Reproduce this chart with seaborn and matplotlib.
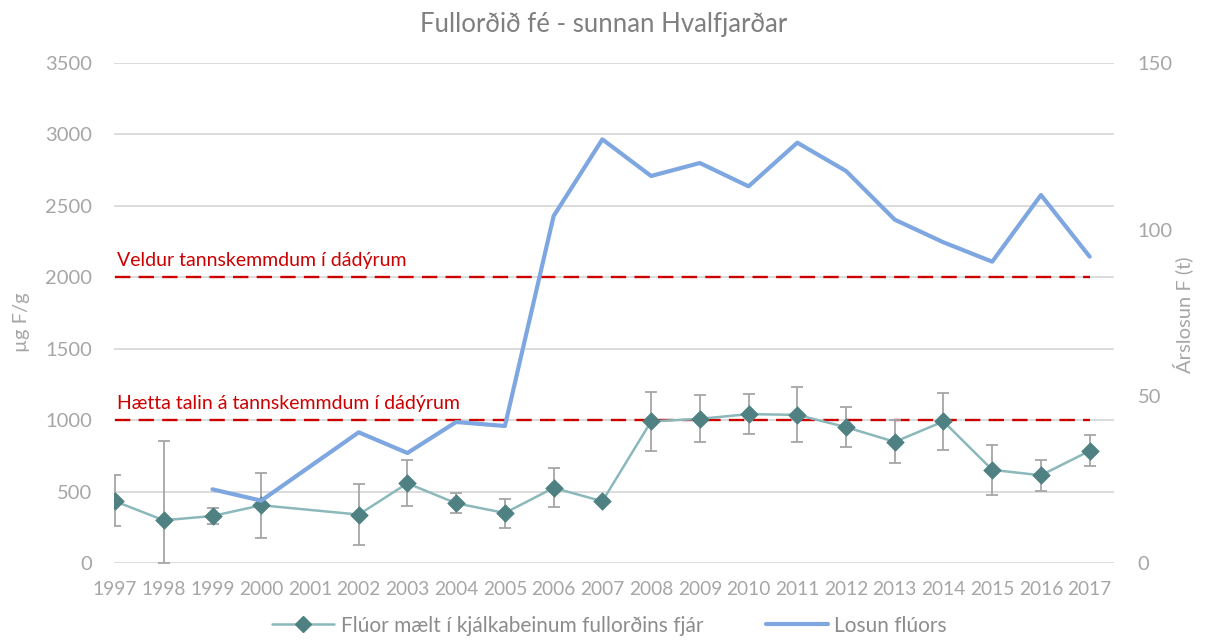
import numpy as np
import pandas as pd
import matplotlib
matplotlib.use("Agg")
import matplotlib.pyplot as plt
import seaborn as sns
from matplotlib.lines import Line2D

# Years on the category axis
years = [1997, 1998, 1999, 2000, 2001, 2002, 2003, 2004, 2005, 2006, 2007,
         2008, 2009, 2010, 2011, 2012, 2013, 2014, 2015, 2016, 2017]

# Fluoride in jawbones of adult sheep (µg F/g), with error-bar limits
fluor = [432, 299, 329, 404, np.nan, 339, 558, 418, 350, 526, 432,
         991, 1009, 1042, 1037, 951, 848, 991, 652, 614, 785]
fluor_hi = [619, 857, 388, 633, np.nan, 554, 720, 488, 451, 664, 432,
            1199, 1178, 1182, 1231, 1091, 998, 1187, 829, 724, 893]
fluor_lo = [257, 0, 276, 173, np.nan, 124, 400, 348, 245, 390, 432,
            783, 846, 904, 844, 811, 703, 790, 474, 505, 678]

# Annual fluoride emissions (tonnes)
losun = [np.nan, np.nan, 22.1, 18.7, np.nan, 39.2, 33.0, 42.3, 41.1, 104.1, 127.1,
         116.1, 120.0, 113.0, 126.1, 117.6, 103.0, 96.2, 90.4, 110.4, 91.9]

# Reference thresholds (µg F/g)
thresholds = [2000, 1000]
threshold_labels = ["Veldur tannskemmdum í dádýrum",
                    "Hætta talin á tannskemmdum í dádýrum"]

title = "Fullorðið fé - sunnan Hvalfjarðar"
left_label = "µg F/g"
right_label = "Árslosun F (t)"
series_names = ["Flúor mælt í kjálkabeinum fullorðins fjár", "Losun flúors"]

sns.set_theme(style="white")
plt.rcParams["font.family"] = ["Lato", "DejaVu Sans"]

TICK = "#A6A6A6"
GRID = "#D9D9D9"
TEAL_LINE = "#8BB8BA"
TEAL_MARK = "#4F8183"
BLUE = "#7EA6E0"
RED = "#CC0000"
FS = 13.8

df = pd.DataFrame({"year": years, "fluor": fluor, "hi": fluor_hi,
                   "lo": fluor_lo, "losun": losun})

fig = plt.figure(figsize=(12.07, 6.41), dpi=100)
ax = fig.add_axes([0.0945, 0.1217, 0.8285, 0.7800])

for spine in ax.spines.values():
    spine.set_visible(False)

ax.set_ylim(0, 3500)
ax.set_yticks(np.arange(0, 3501, 500))
ax.set_xlim(1996.98, 2017.5)
ax.set_xticks(years)
ax.set_xticklabels([str(y) for y in years])
ax.yaxis.grid(True, color=GRID, linewidth=1.3)
ax.set_axisbelow(True)
ax.tick_params(axis="both", length=0, colors=TICK, labelsize=FS)
ax.tick_params(axis="y", labelsize=14.5, pad=16)
ax.tick_params(axis="x", pad=13)

# Threshold lines and their labels
for val, lab in zip(thresholds, threshold_labels):
    tdf = pd.DataFrame({"year": [years[0], years[-1]], "v": [val, val]})
    sns.lineplot(data=tdf, x="year", y="v", ax=ax, color=RED, linewidth=1.7,
                 zorder=3)
    ax.lines[-1].set_dashes((6.5, 3.5))
    ax.text(years[0] + 0.05, val + 55, lab, color=RED, fontsize=14,
            ha="left", va="bottom", zorder=4)

# Fluoride in bone: error bars, connecting line and diamond markers
valid = df.dropna(subset=["fluor"])
ax.errorbar(valid["year"], valid["fluor"],
            yerr=[valid["fluor"] - valid["lo"], valid["hi"] - valid["fluor"]],
            fmt="none", ecolor="#A6A6A6", elinewidth=1.3, capsize=4.5,
            capthick=1.3, zorder=4)
sns.lineplot(data=valid, x="year", y="fluor", ax=ax, color=TEAL_LINE,
             linewidth=1.8, zorder=5)
sns.scatterplot(data=valid, x="year", y="fluor", ax=ax, marker="D", s=80,
                color=TEAL_MARK, edgecolor=TEAL_MARK, linewidth=0.5, zorder=6)

ax.set_xlabel("")
ax.set_ylabel(left_label, color=TICK, fontsize=14.5)
ax.yaxis.set_label_coords(-0.084, 0.482)

# Emissions on the secondary axis
ax2 = ax.twinx()
for spine in ax2.spines.values():
    spine.set_visible(False)
sns.lineplot(data=df.dropna(subset=["losun"]), x="year", y="losun", ax=ax2,
             color=BLUE, linewidth=3.0, zorder=5)
ax2.set_ylim(0, 150)
ax2.set_yticks([0, 50, 100, 150])
ax2.tick_params(axis="y", length=0, colors=TICK, labelsize=14.5, pad=17)
ax2.set_ylabel(right_label, color=TICK, fontsize=14.5)
ax2.yaxis.set_label_coords(1.058, 0.496)
ax2.set_xlim(1996.98, 2017.5)

fig.text(0.5, 0.962, title, ha="center", va="center", fontsize=18.5,
         color="#7F7F7F")

handles = [
    Line2D([0], [0], color=TEAL_LINE, linewidth=1.8, marker="D",
           markersize=8.5, markerfacecolor=TEAL_MARK, markeredgecolor=TEAL_MARK),
    Line2D([0], [0], color=BLUE, linewidth=3.0),
]
fig.legend(handles, series_names, loc="center", bbox_to_anchor=(0.505, 0.024),
           ncol=2, frameon=False, fontsize=15, labelcolor="#8C8C8C",
           columnspacing=3.0, handlelength=3.0, handletextpad=0.3)

fig.savefig("out.png", dpi=100)
